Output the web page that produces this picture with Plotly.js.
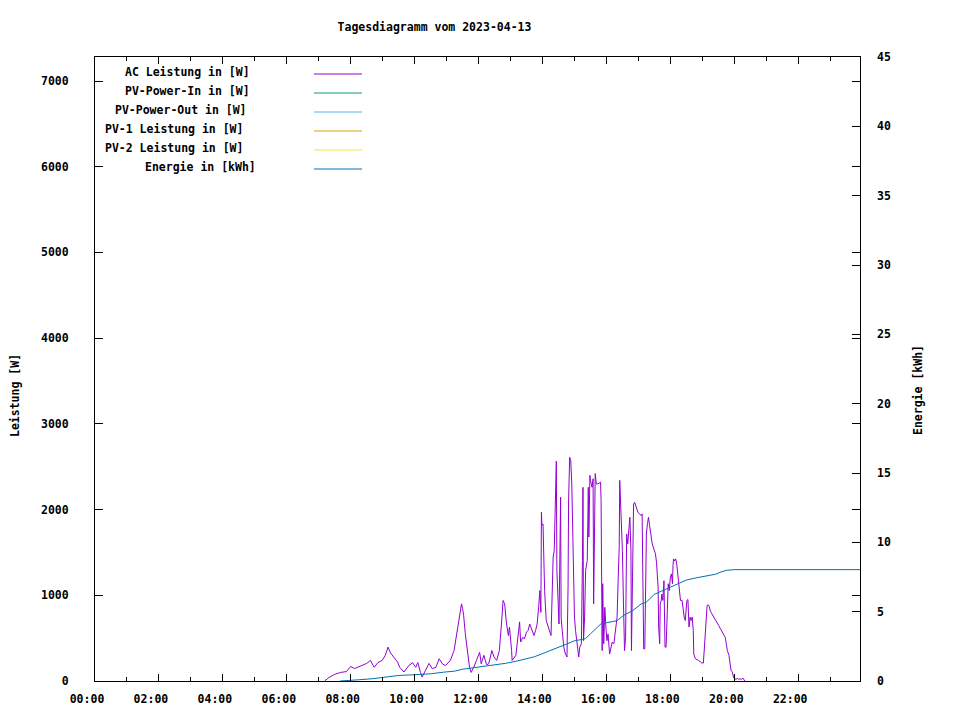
<!DOCTYPE html>
<html>
<head>
<meta charset="utf-8">
<script src="https://cdn.plot.ly/plotly-3.0.1.min.js"></script>
<style>html,body{margin:0;padding:0;background:#fff;}#chart{width:960px;height:720px;}</style>
</head>
<body>
<div id="chart"></div>
<script>
const day = '2023-04-13';
const chartTitle = 'Tagesdiagramm vom 2023-04-13';
const leftAxisTitle = 'Leistung [W]';
const rightAxisTitle = 'Energie [kWh]';

const seriesNames = ['AC Leistung in [W]', 'PV-Power-In in [W]', 'PV-Power-Out in [W]', 'PV-1 Leistung in [W]', 'PV-2 Leistung in [W]', 'Energie in [kWh]'];
const seriesColors = ['#9400D3', '#009E73', '#56B4E9', '#E69F00', '#F0E442', '#0072B2'];

const acTimes = ['07:11','07:19','07:29','07:41','07:52','08:00','08:07','08:19','08:30','08:37','08:44','08:51','08:59','09:05','09:10','09:15','09:20','09:28','09:32','09:40','09:49','09:56','10:02','10:06','10:11','10:14','10:20','10:27','10:33','10:40','10:46','10:52','10:58','11:07','11:14','11:19','11:23','11:28','11:30','11:32','11:35','11:39','11:43','11:46','11:51','11:56','12:02','12:05','12:10','12:15','12:19','12:25','12:29','12:34','12:39','12:43','12:46','12:49','12:52','12:56','12:58','13:02','13:03','13:10','13:13','13:16','13:17','13:19','13:23','13:26','13:30','13:33','13:36','13:41','13:44','13:47','13:50','13:53','13:55','13:57','13:58','13:59','14:01','14:02','14:04','14:07','14:10','14:13','14:16','14:18','14:20','14:22','14:25','14:26','14:27','14:29','14:31','14:34','14:35','14:37','14:40','14:43','14:46','14:48','14:49','14:51','14:53','14:55','14:58','15:00','15:02','15:04','15:06','15:08','15:10','15:13','15:15','15:16','15:17','15:19','15:21','15:24','15:26','15:27','15:29','15:30','15:33','15:35','15:36','15:37','15:39','15:41','15:44','15:49','15:50','15:52','15:53','15:55','15:57','15:59','16:01','16:03','16:06','16:08','16:11','16:14','16:17','16:20','16:22','16:24','16:25','16:26','16:28','16:30','16:32','16:34','16:36','16:38','16:40','16:42','16:44','16:46','16:47','16:49','16:51','16:53','16:56','16:59','17:02','17:05','17:07','17:08','17:10','17:12','17:14','17:15','17:17','17:19','17:21','17:23','17:26','17:29','17:32','17:34','17:35','17:37','17:38','17:40','17:41','17:43','17:44','17:46','17:48','17:49','17:50','17:52','17:55','17:56','17:58','18:00','18:02','18:04','18:05','18:06','18:08','18:10','18:12','18:14','18:16','18:17','18:19','18:22','18:24','18:26','18:28','18:29','18:31','18:33','18:35','18:37','18:39','18:41','18:43','18:44','18:47','18:53','18:59','19:02','19:04','19:06','19:09','19:11','19:13','19:15','19:18','19:21','19:25','19:28','19:31','19:34','19:37','19:40','19:43','19:45','19:47','19:50','19:52','19:54','19:56','19:58','19:59','20:01','20:04','20:06','20:08','20:11','20:14','20:16','20:19','20:20'];
const acWatts = [0,40,75,100,110,170,145,180,205,240,160,215,240,300,395,325,280,220,160,105,180,215,160,215,100,45,120,205,145,160,260,200,180,240,355,555,745,900,845,765,555,320,160,100,160,240,335,200,300,190,200,355,280,240,355,665,940,900,690,530,630,355,240,300,435,630,690,455,510,490,570,590,665,570,530,590,665,880,1055,800,1970,1815,1830,1405,1055,705,645,590,530,980,1445,1520,2455,2565,1290,820,665,2145,745,590,395,315,280,1095,2100,2610,2575,2300,1330,745,590,470,355,280,395,435,1405,2260,470,745,1290,1405,2260,1680,2400,2340,2260,2360,900,1600,2420,2300,2300,2320,2105,355,1135,435,860,630,470,550,315,375,455,435,590,745,1170,1560,2340,2185,1910,1520,900,355,510,1715,1600,1835,1910,1520,355,1210,2065,2085,2010,1970,1950,1930,1950,1290,375,375,1135,1715,1835,1910,1815,1715,1600,1540,1485,1385,1210,1095,630,435,900,940,1015,940,1170,940,395,395,1015,1135,1055,1210,1250,1135,1345,1425,1400,1425,1365,1250,1135,1055,940,940,820,745,705,820,940,950,630,745,705,745,590,315,260,240,210,210,395,665,880,890,870,815,785,745,705,690,645,610,570,550,510,435,355,300,180,120,110,50,35,25,20,35,20,25,20,35,15,0];

const energyTimes = ['07:40','08:00','08:15','08:40','09:00','09:30','10:00','10:30','10:55','11:15','11:30','11:50','12:10','12:30','12:50','13:10','13:30','13:45','14:05','14:25','14:45','15:00','15:12','15:20','15:30','15:40','15:50','16:00','16:20','16:32','16:50','17:05','17:15','17:30','17:45','18:00','18:15','18:30','18:50','19:10','19:25','19:35','19:45','20:00','23:56'];
const energyKWh = [0.0,0.03,0.09,0.16,0.27,0.40,0.45,0.52,0.64,0.71,0.85,0.95,1.05,1.12,1.27,1.42,1.60,1.75,2.05,2.33,2.66,2.90,2.99,3.04,3.40,3.75,4.13,4.20,4.35,4.73,5.09,5.55,5.69,6.25,6.50,6.78,7.00,7.28,7.45,7.58,7.70,7.86,7.98,8.03,8.03];

const xStart = '00:00', xEnd = '23:56';

const W = 960, H = 720;
const M = {l: 95, r: 100, t: 57, b: 39};
const plotW = W - M.l - M.r, plotH = H - M.t - M.b;
const px2x = p => (p - M.l) / plotW;
const px2y = p => (H - M.b - p) / plotH;

const FONT = 'DejaVu Sans Mono, Liberation Mono, monospace';
const fnt = {family: FONT, size: 11.5, color: '#000', weight: 'bold'};

const traces = [
  {x: acTimes.map(t => day + ' ' + t), y: acWatts, type: 'scatter', mode: 'lines', name: seriesNames[0],
   line: {color: seriesColors[0], width: 1}, yaxis: 'y', hoverinfo: 'skip'},
  {x: energyTimes.map(t => day + ' ' + t), y: energyKWh, type: 'scatter', mode: 'lines', name: seriesNames[5],
   line: {color: seriesColors[5], width: 1}, yaxis: 'y2', hoverinfo: 'skip'}
];

const annotations = [
  {text: leftAxisTitle, xref: 'paper', yref: 'paper', x: px2x(15), y: px2y(396), textangle: -90, showarrow: false, font: fnt, xanchor: 'center', yanchor: 'middle'},
  {text: rightAxisTitle, xref: 'paper', yref: 'paper', x: px2x(918), y: px2y(390), textangle: -90, showarrow: false, font: fnt, xanchor: 'center', yanchor: 'middle'}
];
const shapes = [];
seriesNames.forEach((n, i) => {
  const yp = 72 + 19 * i;
  const xLeft = 303 - 10 * n.length;
  annotations.push({text: n, xref: 'paper', yref: 'paper', x: px2x(xLeft), y: px2y(yp), xanchor: 'left', yanchor: 'middle', showarrow: false, font: fnt});
  shapes.push({type: 'line', xref: 'paper', yref: 'paper', x0: px2x(314), x1: px2x(362), y0: px2y(yp + 2), y1: px2y(yp + 2), line: {color: seriesColors[i], width: 1}});
});

const layout = {
  width: W, height: H, margin: M,
  paper_bgcolor: '#fff', plot_bgcolor: '#fff',
  font: fnt, showlegend: false,
  title: {text: chartTitle, x: 434.5 / W, xref: 'container', xanchor: 'center', y: 1 - 27 / H, yref: 'container', yanchor: 'middle', font: fnt},
  xaxis: {
    type: 'date', range: [day + ' ' + xStart, day + ' ' + xEnd],
    tick0: day + ' 00:00', dtick: 7200000, tickformat: '%H:%M',
    ticks: 'inside', ticklen: 7, tickcolor: '#000', tickwidth: 1,
    showline: true, linecolor: '#000', linewidth: 1, mirror: 'ticks',
    showgrid: false, zeroline: false, tickfont: fnt, ticklabelshift: -8, ticklabelstandoff: 7,
    minor: {dtick: 3600000, tick0: day + ' 00:00', ticks: 'inside', ticklen: 4, tickcolor: '#000', showgrid: false}
  },
  yaxis: {
    range: [0, 7280], dtick: 1000, tick0: 0,
    ticks: 'inside', ticklen: 8, tickcolor: '#000',
    showline: true, linecolor: '#000', linewidth: 1, mirror: 'ticks',
    showgrid: false, zeroline: false, tickfont: fnt, ticklabelstandoff: 23
  },
  yaxis2: {
    overlaying: 'y', side: 'right', range: [0, 45], dtick: 5, tick0: 0,
    ticks: 'inside', ticklen: 8, tickcolor: '#000',
    showline: false, showgrid: false, zeroline: false, tickfont: fnt, ticklabelstandoff: 16
  },
  annotations: annotations, shapes: shapes
};

Plotly.newPlot('chart', traces, layout, {staticPlot: true, displayModeBar: false});
</script>
</body>
</html>
